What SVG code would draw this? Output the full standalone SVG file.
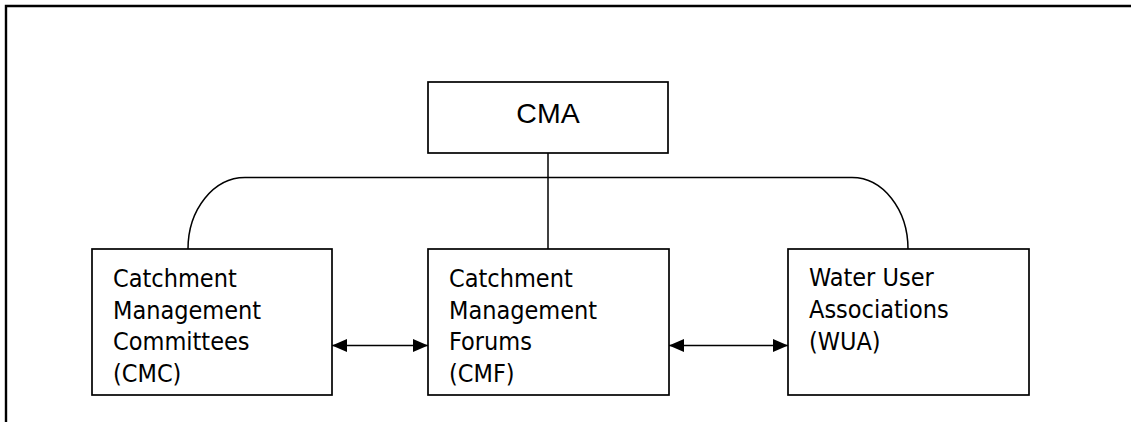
<svg xmlns="http://www.w3.org/2000/svg" width="1131" height="422" viewBox="0 0 1131 422">
  <defs>
    <marker id="arrow" viewBox="0 0 15 13" refX="15" refY="6.5" markerWidth="15" markerHeight="13" markerUnits="userSpaceOnUse" orient="auto-start-reverse">
      <path d="M0,0 L15,6.5 L0,13 Z" fill="#000"/>
    </marker>
    <style>
      .box { fill: #fff; stroke: #000; stroke-width: 1.7; }
      .frame { fill: none; stroke: #000; stroke-width: 2.4; }
      .link { fill: none; stroke: #000; stroke-width: 1.5; }
      .label { font-family: "DejaVu Sans Condensed", "DejaVu Sans", sans-serif; font-stretch: condensed; font-size: 25px; fill: #000; }
      .title { font-family: "Liberation Sans", Arial, sans-serif; font-size: 28.5px; fill: #000; text-anchor: middle; }
    </style>
  </defs>

  <rect width="1131" height="422" fill="#fff"/>
  <path class="frame" d="M6,422 V6 H1131"/>

  <g id="connectors">
    <path class="link" d="M188,249 A57,71.5 0 0 1 245,177.5 H852 A56,71.5 0 0 1 908,249"/>
    <path class="link" d="M548,153 V249"/>
    <path class="link" d="M332,345.5 H428" marker-start="url(#arrow)" marker-end="url(#arrow)"/>
    <path class="link" d="M669,345.5 H788" marker-start="url(#arrow)" marker-end="url(#arrow)"/>
  </g>

  <g id="cma">
    <rect class="box" x="428" y="82" width="240" height="71"/>
    <text class="title" x="548" y="123">CMA</text>
  </g>

  <g id="cmc">
    <rect class="box" x="92" y="249" width="240" height="146"/>
    <text class="label">
      <tspan x="113" y="287">Catchment</tspan>
      <tspan x="113" y="318.7">Management</tspan>
      <tspan x="113" y="350.4">Committees</tspan>
      <tspan x="113" y="382.1">(CMC)</tspan>
    </text>
  </g>

  <g id="cmf">
    <rect class="box" x="428" y="249" width="241" height="146"/>
    <text class="label">
      <tspan x="449" y="287">Catchment</tspan>
      <tspan x="449" y="318.7">Management</tspan>
      <tspan x="449" y="350.4">Forums</tspan>
      <tspan x="449" y="382.1">(CMF)</tspan>
    </text>
  </g>

  <g id="wua">
    <rect class="box" x="788" y="249" width="241" height="146"/>
    <text class="label">
      <tspan x="809" y="286">Water User</tspan>
      <tspan x="809" y="318">Associations</tspan>
      <tspan x="809" y="350">(WUA)</tspan>
    </text>
  </g>
</svg>
